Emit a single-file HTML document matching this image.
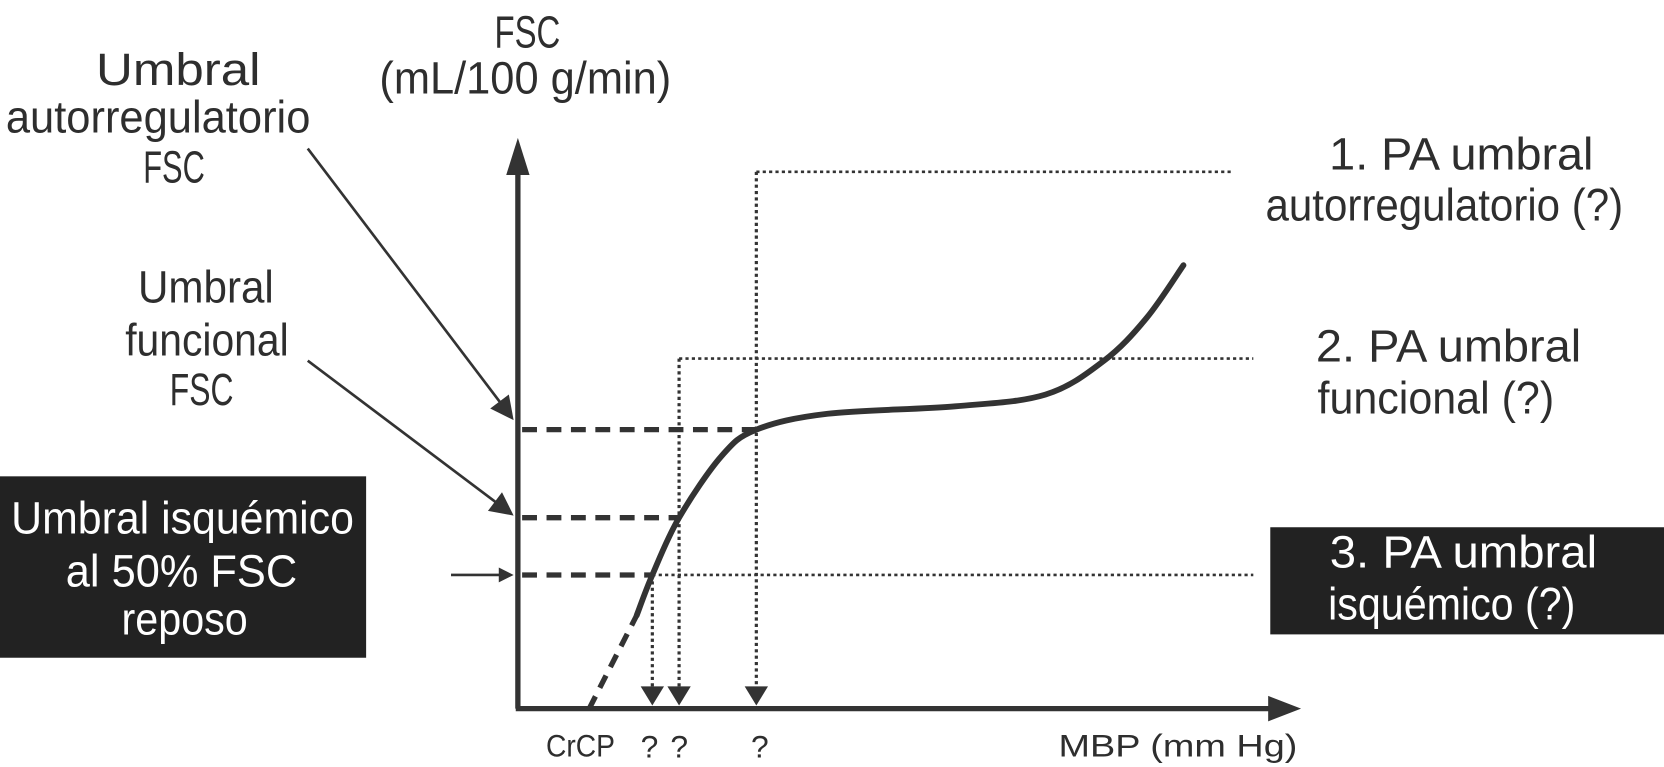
<!DOCTYPE html>
<html><head><meta charset="utf-8"><style>
html,body{margin:0;padding:0;background:#fff;width:1664px;height:767px;overflow:hidden}
svg{display:block}
text{font-family:"Liberation Sans Narrow","Liberation Sans",sans-serif;fill:#2e2e2e}
</style></head><body>
<svg id="c" width="1664" height="767" viewBox="0 0 1568 723" preserveAspectRatio="none">
<g id="texts" font-size="43">
<text x="497" y="45" text-anchor="middle" textLength="62" lengthAdjust="spacingAndGlyphs">FSC</text>
<text x="495" y="88" text-anchor="middle" textLength="275" lengthAdjust="spacingAndGlyphs">(mL/100 g/min)</text>
<text x="168" y="80" text-anchor="middle" textLength="155" lengthAdjust="spacingAndGlyphs">Umbral</text>
<text x="149" y="125" text-anchor="middle" textLength="287" lengthAdjust="spacingAndGlyphs">autorregulatorio</text>
<text x="164" y="172" text-anchor="middle" textLength="58" lengthAdjust="spacingAndGlyphs">FSC</text>
<text x="194" y="285" text-anchor="middle" textLength="128" lengthAdjust="spacingAndGlyphs">Umbral</text>
<text x="195" y="335" text-anchor="middle" textLength="154" lengthAdjust="spacingAndGlyphs">funcional</text>
<text x="190" y="382" text-anchor="middle" textLength="60" lengthAdjust="spacingAndGlyphs">FSC</text>
<rect x="0" y="449" width="345" height="171" fill="#222"/>
<text x="172" y="503" text-anchor="middle" textLength="323" lengthAdjust="spacingAndGlyphs" style="fill:#fff">Umbral isquémico</text>
<text x="171" y="553" text-anchor="middle" textLength="218" lengthAdjust="spacingAndGlyphs" style="fill:#fff">al 50% FSC</text>
<text x="174" y="598" text-anchor="middle" textLength="119" lengthAdjust="spacingAndGlyphs" style="fill:#fff">reposo</text>
<text x="1377" y="160" text-anchor="middle" textLength="249" lengthAdjust="spacingAndGlyphs">1. PA umbral</text>
<text x="1361" y="208" text-anchor="middle" textLength="337" lengthAdjust="spacingAndGlyphs">autorregulatorio (?)</text>
<text x="1365" y="341" text-anchor="middle" textLength="250" lengthAdjust="spacingAndGlyphs">2. PA umbral</text>
<text x="1353" y="390" text-anchor="middle" textLength="223" lengthAdjust="spacingAndGlyphs">funcional (?)</text>
<rect x="1197" y="497" width="371" height="101" fill="#222"/>
<text x="1379" y="535" text-anchor="middle" textLength="252" lengthAdjust="spacingAndGlyphs" style="fill:#fff">3. PA umbral</text>
<text x="1368" y="584" text-anchor="middle" textLength="233" lengthAdjust="spacingAndGlyphs" style="fill:#fff">isquémico (?)</text>
<g font-size="30">
<text x="547" y="713" text-anchor="middle" textLength="65" lengthAdjust="spacingAndGlyphs">CrCP</text>
<text x="612" y="714" text-anchor="middle">?</text>
<text x="640" y="714" text-anchor="middle">?</text>
<text x="716" y="714" text-anchor="middle">?</text>
<text x="1110" y="713" text-anchor="middle" textLength="225" lengthAdjust="spacingAndGlyphs">MBP (mm Hg)</text>
</g>
</g>
<g id="plot"></g>
</svg>
<script>
// data
const curveMBP = [9.6, 16, 18.1, 21.7, 27.4, 32.1, 41.7, 58.9, 71, 78.9, 84.6, 89.6];
const curveFSC = [0, 17.6, 25.2, 36, 47.6, 52.6, 55.6, 57, 59.2, 65.6, 73.6, 83.6];
const thresholdFSC = [52.6, 36, 25.2];
const thresholdMBP = [32.1, 21.7, 18.1];
const labelLevels = [101.2, 66, 25.2];
const labelEnds = [96, 99, 99];
const solidStart = 1;

const x = v => 488 + v * 7;
const y = v => 668 - v * 5;
const NS = 'http://www.w3.org/2000/svg';
const g = document.getElementById('plot');
function mk(tag, a) { const e = document.createElementNS(NS, tag); for (const k in a) e.setAttribute(k, a[k]); g.appendChild(e); return e; }

let e = mk('line', {x1: 488, y1: 668, x2: 488, y2: 150, stroke: '#333', 'stroke-width': 5});


e = mk('path', {d: 'M477,165 L488,130 L499,165z', fill: '#333'});


e = mk('line', {x1: 486, y1: 668, x2: 1200, y2: 668, stroke: '#333', 'stroke-width': 5});


e = mk('path', {d: 'M1195,656 L1226,668 L1195,680z', fill: '#333'});



for (let i = 0; i < 3; i++) {
  const ty = y(thresholdFSC[i]), tx = x(thresholdMBP[i]);
  e = mk('line', {x1: 492, y1: ty, x2: tx, y2: ty, stroke: '#333', 'stroke-width': 5, 'stroke-dasharray': '14,9'});
  
  
  const ly = y(labelLevels[i]);
  e = mk('line', {x1: tx, y1: ly, x2: x(labelEnds[i]), y2: ly, stroke: '#333', 'stroke-width': 2.5, 'stroke-dasharray': '3,3'});
  
  
  e = mk('line', {x1: tx, y1: Math.min(ly, ty), x2: tx, y2: 650, stroke: '#333', 'stroke-width': 3, 'stroke-dasharray': '3,3'});
  
  
  e = mk('path', {d: `M${tx-11},647 L${tx+11},647 L${tx},665z`, fill: '#333'});
  
  
}

const pts = curveMBP.map((v, i) => [x(v), y(curveFSC[i])]);
function smooth(p) {
  let d = `M${p[0][0]},${p[0][1]}`;
  for (let i = 0; i < p.length - 1; i++) {
    const p0 = p[Math.max(i - 1, 0)], p1 = p[i], p2 = p[i + 1], p3 = p[Math.min(i + 2, p.length - 1)];
    d += ` C${p1[0] + (p2[0] - p0[0]) / 6},${p1[1] + (p2[1] - p0[1]) / 6} ${p2[0] - (p3[0] - p1[0]) / 6},${p2[1] - (p3[1] - p1[1]) / 6} ${p2[0]},${p2[1]}`;
  }
  return d;
}
e = mk('line', {x1: pts[0][0], y1: pts[0][1], x2: pts[solidStart][0], y2: pts[solidStart][1], stroke: '#333', 'stroke-width': 5, 'stroke-dasharray': '13,9'});


e = mk('path', {d: smooth(pts.slice(solidStart)), fill: 'none', stroke: '#333', 'stroke-width': 5.5, 'stroke-linecap': 'round'});



const arrows = [[290, 140, 484, 396, 'autoreg-pointer'], [290, 340, 484, 486, 'functional-pointer'], [425, 542, 484, 542, 'ischemic-pointer']];
arrows.forEach(a => {
  const el = mk('line', {x1: a[0], y1: a[1], x2: a[2] - (a[2] - a[0]) * 0.06, y2: a[3] - (a[3] - a[1]) * 0.06, stroke: '#333', 'stroke-width': 2.5});
  
  
  const ang = Math.atan2(a[3] - a[1], a[2] - a[0]), L = a[4] === 'ischemic-pointer' ? 14 : 22, W = a[4] === 'ischemic-pointer' ? 7 : 11;
  const bx = a[2] - L * Math.cos(ang), by = a[3] - L * Math.sin(ang);
  const hd = mk('path', {d: `M${a[2]},${a[3]} L${bx - W * Math.sin(ang)},${by + W * Math.cos(ang)} L${bx + W * Math.sin(ang)},${by - W * Math.cos(ang)}z`, fill: '#333'});
  
  
});
</script>
</body></html>
